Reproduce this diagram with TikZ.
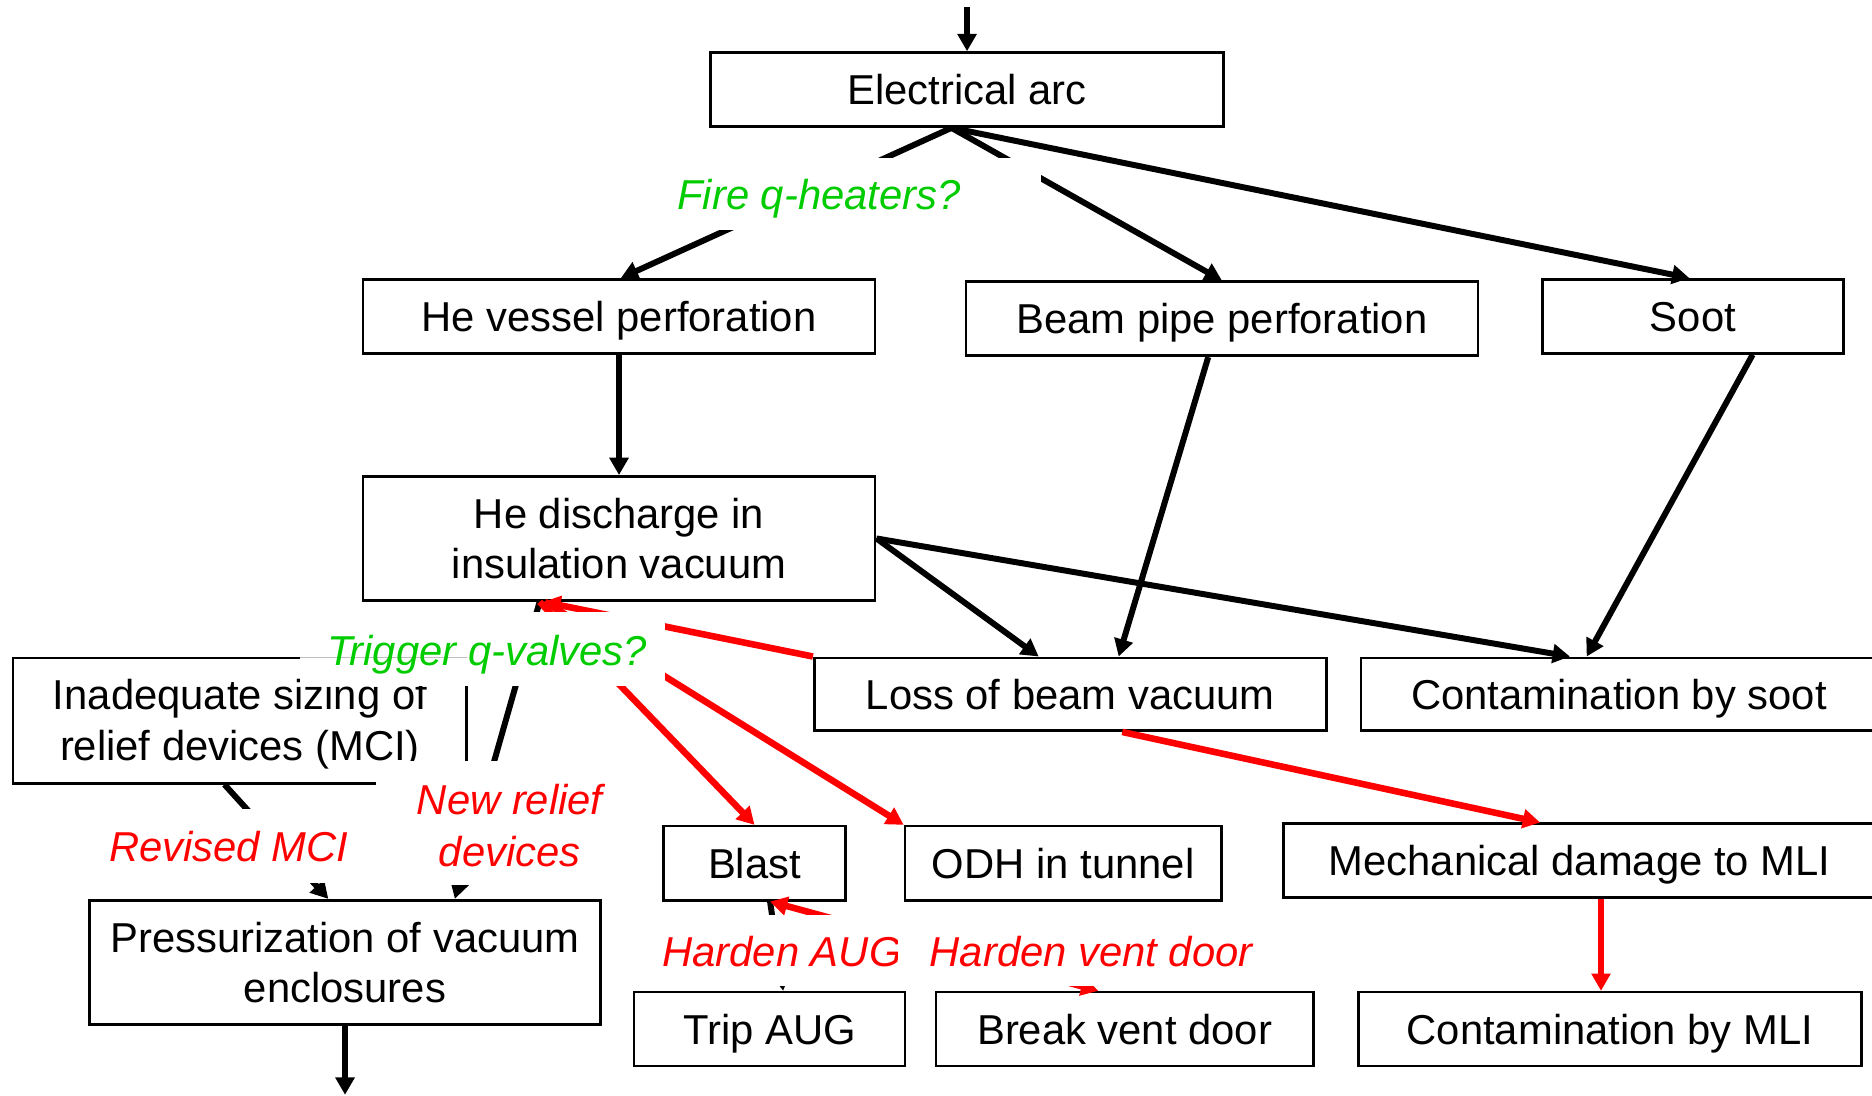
\documentclass[tikz,border=0pt]{standalone}
\usepackage{fontspec}
\setmainfont{Liberation Sans}
\usetikzlibrary{arrows.meta}
\definecolor{lblgreen}{RGB}{0,204,0}
\definecolor{lblred}{RGB}{255,0,0}
\newcommand\boxfont{\fontsize{35}{42}\selectfont}
\newcommand\labfont{\fontsize{35}{43}\selectfont\itshape}
\begin{document}
\begin{tikzpicture}[x=1pt,y=-1pt,
  >={Triangle[length=14.5pt,width=15.5pt]},
  box/.style={draw=black, line width=2.2pt, inner sep=0pt, font=\boxfont},
  one/.style={box, text height=25pt, text depth=0pt},
  two/.style={box, align=center},
  conn/.style={->},
  blk/.style={conn, draw=black, line width=5pt},
  rd/.style={conn, draw=lblred, line width=5.5pt},
  lab/.style={inner sep=0pt, font=\labfont},
  labone/.style={lab, text height=25pt, text depth=0pt},
  mask/.style={fill=white}]
\useasboundingbox (0,0) rectangle (1568,918);
\clip (0,0) rectangle (1568,918);
% boxes
\node[one, minimum width=430pt, minimum height=62pt] (arc) at (810,75) {Electrical arc};
\node[one, minimum width=429pt, minimum height=62pt] (hev) at (518.5,265) {He vessel perforation};
\node[one, minimum width=429pt, minimum height=62pt] (bpp) at (1023.5,267) {Beam pipe perforation};
\node[one, minimum width=252pt, minimum height=62pt] (soot) at (1418,265) {Soot};
\node[two, minimum width=429pt, minimum height=104pt] (hed) at (518.5,451) {He discharge in\\insulation vacuum};
\node[two, minimum width=380pt, minimum height=105pt] (inad) at (201,603.5) {\rule{0pt}{31.6pt}Inadequate sizing of\\[1pt]relief devices (MCI)};
\node[one, minimum width=429pt, minimum height=61pt] (lbv) at (896.5,581.5) {Loss of beam vacuum};
\node[one, minimum width=432pt, minimum height=61pt] (cbs) at (1356,581.5) {Contamination by soot};
\node[one, minimum width=152pt, minimum height=62pt] (blast) at (632,723) {Blast};
\node[one, minimum width=265pt, minimum height=62pt] (odh) at (890.5,723) {ODH in tunnel};
\node[one, minimum width=496pt, minimum height=62pt] (mech) at (1323,721) {Mechanical damage to MLI};
\node[two, minimum width=428pt, minimum height=104pt] (pres) at (289,806) {Pressurization of vacuum\\enclosures};
\node[one, minimum width=227pt, minimum height=62pt] (trip) at (644.5,862) {Trip AUG};
\node[one, minimum width=316pt, minimum height=62pt] (bvd) at (942,862) {Break vent door};
\node[one, minimum width=421pt, minimum height=62pt] (cmli) at (1348.5,862) {Contamination by MLI};
\coordinate (src) at (810,6);
\coordinate (sink) at (289,917);
% black connectors
\draw[blk] (src) -- (arc.north);
\draw[blk] ([xshift=-13pt]arc.south) -- ([xshift=1.5pt]hev.north);
\draw[blk] ([xshift=-13pt]arc.south) -- (bpp.north);
\draw[blk] ([xshift=-13pt]arc.south) -- ([xshift=-3pt]soot.north);
\draw[blk] (hev.south) -- (hed.north);
\draw[blk] ([xshift=-11.5pt]bpp.south) -- ([xshift=40.5pt]lbv.north);
\draw[blk] ([xshift=50pt]soot.south) -- ([xshift=-27pt]cbs.north);
\draw[blk] (hed.east) -- ([xshift=-26.5pt]lbv.north);
\draw[blk] (hed.east) -- ([xshift=-41pt]cbs.north);
\draw[blk] ([xshift=-66.5pt]hed.south) -- ([xshift=92pt]pres.north);
\draw[blk] ([xshift=-13pt]inad.south) -- ([xshift=-14pt]pres.north);
\draw[blk] (pres.south) -- (sink);
\draw[blk] ([xshift=13pt]blast.south) -- ([xshift=11.5pt]trip.north);
% red connectors
\draw[rd] (lbv.north west) -- ([xshift=-63.5pt]hed.south);
\draw[rd] ([xshift=-66.5pt]hed.south) -- (blast.north);
\draw[rd] ([xshift=-62pt]hed.south) -- (odh.north west);
\draw[rd] ([xshift=43.5pt]lbv.south) -- ([xshift=-33pt]mech.north);
\draw[rd] ([xshift=18pt]mech.south) -- ([xshift=-7.5pt]cmli.north);
\draw[rd, <->] ([xshift=13pt]blast.south) -- ([xshift=-22pt]bvd.north);
% label masks
\fill[mask] (560,132) rectangle (872,193);
\fill[mask] (251,513) rectangle (557,575);
\fill[mask] (85,678) rectangle (300,740);
\fill[mask] (315,637) rectangle (530,741);
\fill[mask] (540,766) rectangle (752,826);
\draw[gray!50, line width=0.6pt] (251,551) -- (391,551);
% labels
\node[labone, text=lblgreen] (fire) at (686,163) {Fire q-heaters?};
\node[labone, text=lblgreen] (trig) at (408,545) {Trigger q-valves?};
\node[labone, text=lblred] (rmci) at (191.5,709) {Revised MCI};
\node[lab, text=lblred, align=center] (newrel) at (427,691.5) {New relief\\devices};
\node[labone, text=lblred] (haug) at (655,797) {Harden AUG};
\fill[mask] (752,766) rectangle (1075,826);
\node[labone, text=lblred] (hvd) at (914,797) {Harden vent door};
\end{tikzpicture}
\end{document}
